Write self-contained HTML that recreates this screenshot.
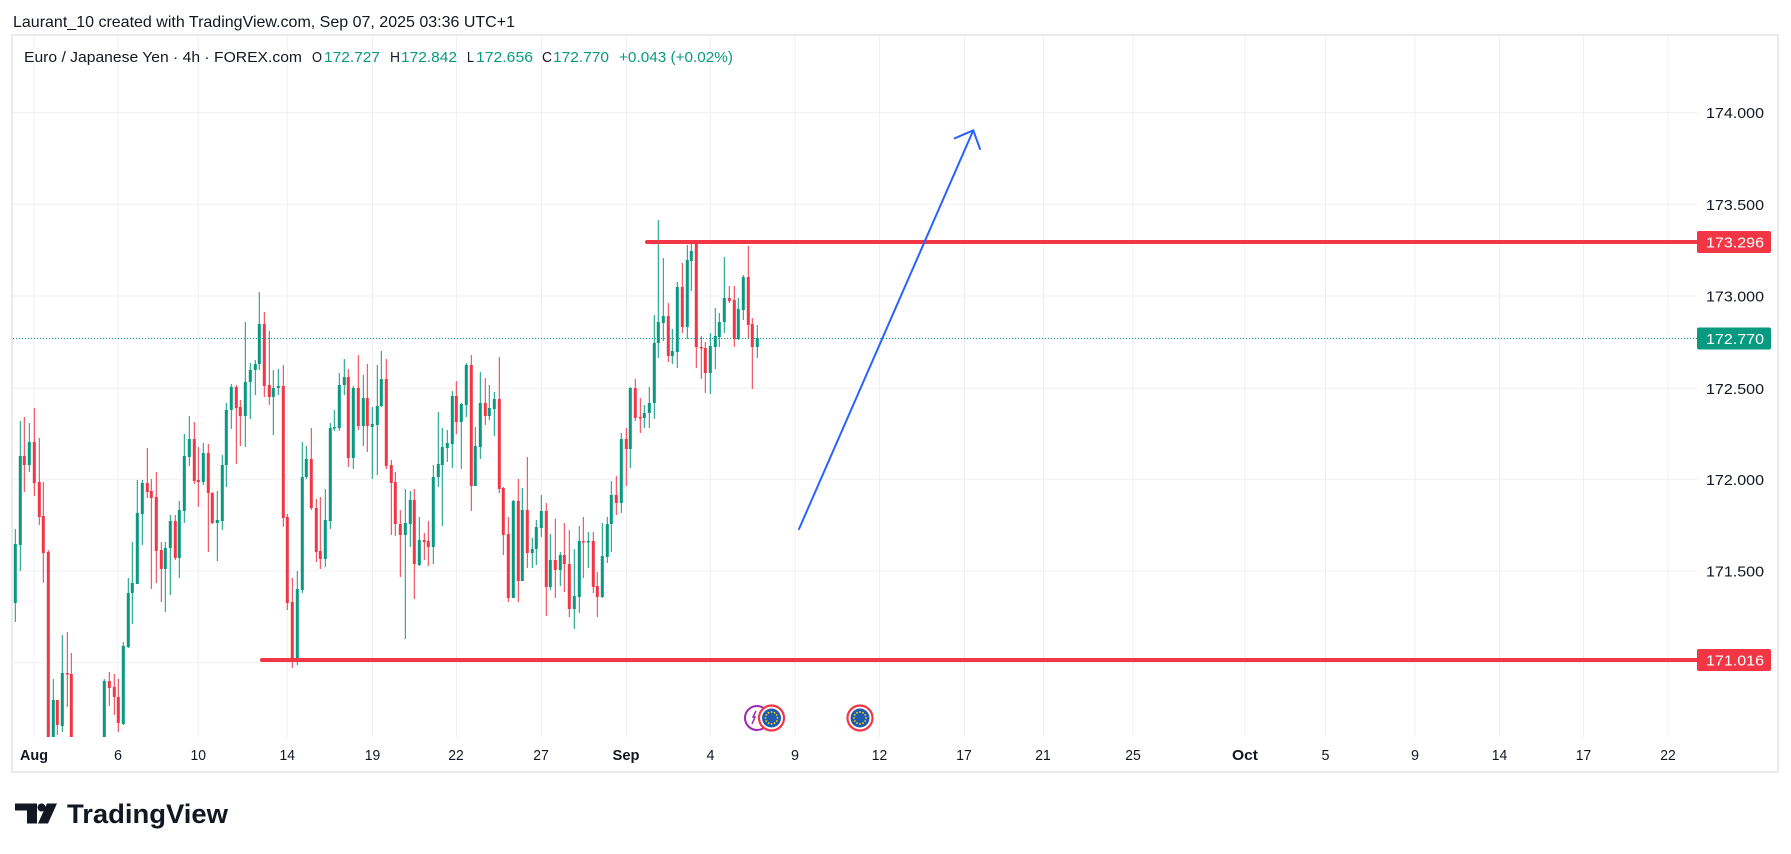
<!DOCTYPE html>
<html><head><meta charset="utf-8"><style>
html,body{margin:0;padding:0;background:#fff;width:1791px;height:854px;overflow:hidden}
svg{display:block}
text{font-family:"Liberation Sans",sans-serif}
</style></head><body>
<svg width="1791" height="854" viewBox="0 0 1791 854" xmlns="http://www.w3.org/2000/svg">
<defs><clipPath id="pane"><rect x="12" y="35" width="1685" height="702"/></clipPath></defs>
<rect width="1791" height="854" fill="#fff"/>
<text x="13" y="27" font-size="16" fill="#131722" textLength="502" lengthAdjust="spacingAndGlyphs">Laurant_10 created with TradingView.com, Sep 07, 2025 03:36 UTC+1</text>
<!-- grid -->
<g stroke="#F0F0F0" stroke-width="1">
<path d="M34 36V737M118 36V737M198.3 36V737M287.3 36V737M372.5 36V737M456.5 36V737M541.5 36V737M626.5 36V737M710.5 36V737M795 36V737M879.5 36V737M964.5 36V737M1043.5 36V737M1133 36V737M1245 36V737M1325.5 36V737M1415 36V737M1499.5 36V737M1583.5 36V737M1668 36V737"/>
<path d="M13 112.6H1697M13 204.3H1697M13 296H1697M13 388.3H1697M13 479.3H1697M13 571H1697M13 662.7H1697"/>
</g>
<rect x="12" y="35" width="1766" height="737" fill="none" stroke="#EBEBEB" stroke-width="2"/>
<!-- legend -->
<g font-size="15">
<text x="24" y="62" fill="#131722" textLength="278" lengthAdjust="spacingAndGlyphs">Euro / Japanese Yen · 4h · FOREX.com</text>
<text x="312" y="62" fill="#131722" textLength="10" lengthAdjust="spacingAndGlyphs">O</text>
<text x="324" y="62" fill="#089981" textLength="56" lengthAdjust="spacingAndGlyphs">172.727</text>
<text x="390" y="62" fill="#131722" textLength="10" lengthAdjust="spacingAndGlyphs">H</text>
<text x="401" y="62" fill="#089981" textLength="56" lengthAdjust="spacingAndGlyphs">172.842</text>
<text x="467" y="62" fill="#131722" textLength="7" lengthAdjust="spacingAndGlyphs">L</text>
<text x="476" y="62" fill="#089981" textLength="57" lengthAdjust="spacingAndGlyphs">172.656</text>
<text x="542" y="62" fill="#131722" textLength="10" lengthAdjust="spacingAndGlyphs">C</text>
<text x="553" y="62" fill="#089981" textLength="56" lengthAdjust="spacingAndGlyphs">172.770</text>
<text x="619" y="62" fill="#089981" textLength="114" lengthAdjust="spacingAndGlyphs">+0.043 (+0.02%)</text>
</g>
<g clip-path="url(#pane)">
<path stroke="#089981" stroke-width="1" fill="none" d="M15.3 529V622 M20.3 421V571 M29.3 423V472 M53.3 679V780 M62.3 635V732 M104.3 679V780 M123.3 642V725 M128.3 578V648 M132.3 542V624 M137.3 480V584 M142.3 480V545 M165.3 542V612 M170.3 515V595 M179.3 501V578 M184.3 434V523 M189.3 416V466 M203.3 443V485 M217.3 491V561 M222.3 455V530 M226.3 403V487 M231.3 384V429 M245.3 322V447 M250.3 363V419 M255.3 360V395 M259.3 292V370 M273.3 370V435 M278.3 369V395 M297.3 571V665 M302.3 442V593 M306.3 446V479 M325.3 489V567 M330.3 423V529 M334.3 410V431 M339.3 373V431 M344.3 359V395 M353.3 386V469 M363.3 375V446 M372.3 407V479 M377.3 365V475 M381.3 351V407 M405.3 489V639 M410.3 491V547 M419.3 517V566 M433.3 465V564 M438.3 412V487 M442.3 428V526 M447.3 430V462 M452.3 391V468 M461.3 403V469 M466.3 363V417 M475.3 427V486 M480.3 372V459 M489.3 385V420 M494.3 392V436 M513.3 500V598 M522.3 488V581 M532.3 538V568 M536.3 520V565 M541.3 495V537 M550.3 534V590 M560.3 552V586 M574.3 549V629 M579.3 526V613 M588.3 532V568 M602.3 523V598 M607.3 517V563 M611.3 481V552 M621.3 433V513 M630.3 387V468 M644.3 405V428 M649.3 387V428 M654.3 315V419 M658.3 220V358 M663.3 258V341 M672.3 329V364 M677.3 282V368 M687.3 245V339 M691.3 241V291 M710.3 333V394 M715.3 308V369 M719.3 313V347 M724.3 257V333 M738.3 298V340 M743.3 275V320 M757.3 325V358"/>
<path fill="#089981" d="M13.8 544h3v59h-3zM18.8 456h3v89h-3zM27.8 442h3v23h-3zM51.8 700h3v60h-3zM60.8 673h3v53h-3zM102.8 681h3v79h-3zM121.8 646h3v78h-3zM126.8 593h3v54h-3zM130.8 583h3v10h-3zM135.8 513h3v71h-3zM140.8 483h3v31h-3zM163.8 548h3v21h-3zM168.8 521h3v27h-3zM177.8 510h3v48h-3zM182.8 456h3v55h-3zM187.8 439h3v18h-3zM201.8 453h3v29h-3zM215.8 520h3v3h-3zM220.8 465h3v56h-3zM224.8 410h3v55h-3zM229.8 387h3v23h-3zM243.8 382h3v34h-3zM248.8 370h3v12h-3zM253.8 364h3v6h-3zM257.8 324h3v40h-3zM271.8 388h3v9h-3zM276.8 386h3v2h-3zM295.8 589h3v71h-3zM300.8 477h3v113h-3zM304.8 459h3v18h-3zM323.8 520h3v39h-3zM328.8 428h3v93h-3zM332.8 427h3v1.5h-3zM337.8 385h3v43h-3zM342.8 377h3v8h-3zM351.8 388h3v70h-3zM361.8 398h3v28h-3zM370.8 424h3v3h-3zM375.8 406h3v19h-3zM379.8 379h3v27h-3zM403.8 523h3v12h-3zM408.8 500h3v24h-3zM417.8 540h3v25h-3zM431.8 477h3v70h-3zM436.8 464h3v13h-3zM440.8 447h3v18h-3zM445.8 443h3v5h-3zM450.8 396h3v48h-3zM459.8 404h3v18h-3zM464.8 365h3v40h-3zM473.8 446h3v40h-3zM478.8 403h3v44h-3zM487.8 408h3v8h-3zM492.8 399h3v10h-3zM511.8 501h3v97h-3zM520.8 510h3v71h-3zM530.8 549h3v4h-3zM534.8 527h3v22h-3zM539.8 511h3v17h-3zM548.8 560h3v27h-3zM558.8 555h3v15h-3zM572.8 596h3v13h-3zM577.8 541h3v56h-3zM586.8 541h3v1.5h-3zM600.8 556h3v41h-3zM605.8 524h3v33h-3zM609.8 495h3v29h-3zM619.8 439h3v64h-3zM628.8 388h3v61h-3zM642.8 413h3v5h-3zM647.8 403h3v10h-3zM652.8 343h3v60h-3zM656.8 322h3v21h-3zM661.8 316h3v7h-3zM670.8 351h3v5h-3zM675.8 287h3v65h-3zM685.8 260h3v67h-3zM689.8 251h3v10h-3zM708.8 346h3v27h-3zM713.8 336h3v11h-3zM717.8 322h3v15h-3zM722.8 298h3v24h-3zM736.8 309h3v30h-3zM741.8 277h3v33h-3zM755.8 338h3v9h-3z"/>
<path stroke="#F23645" stroke-width="1" fill="none" d="M24.3 417V492 M34.3 408V496 M39.3 438V525 M43.3 482V583 M48.3 550V780 M57.3 700V735 M67.3 632V707 M71.3 653V780 M109.3 672V706 M114.3 674V715 M118.3 679V732 M147.3 448V498 M151.3 479V589 M156.3 472V583 M161.3 542V602 M175.3 515V560 M194.3 422V484 M198.3 447V507 M208.3 444V552 M212.3 492V524 M236.3 385V464 M240.3 400V446 M264.3 312V397 M269.3 331V405 M283.3 365V527 M287.3 514V610 M292.3 578V668 M311.3 428V510 M316.3 499V562 M320.3 497V569 M348.3 369V467 M358.3 355V430 M367.3 364V452 M386.3 359V469 M391.3 460V535 M395.3 472V536 M400.3 510V577 M414.3 489V599 M424.3 533V560 M428.3 521V566 M456.3 381V434 M471.3 355V511 M485.3 378V425 M499.3 357V493 M503.3 487V555 M508.3 517V602 M518.3 479V602 M527.3 457V568 M546.3 503V616 M555.3 519V598 M564.3 523V592 M569.3 530V617 M583.3 517V578 M593.3 532V593 M597.3 572V617 M616.3 476V515 M626.3 428V486 M635.3 379V421 M640.3 398V433 M668.3 303V362 M682.3 263V333 M696.3 242V368 M701.3 336V379 M705.3 342V393 M729.3 286V303 M734.3 286V347 M748.3 246V338 M752.3 318V389"/>
<path fill="#F23645" d="M22.8 456h3v9h-3zM32.8 442h3v41h-3zM37.8 482h3v35h-3zM41.8 516h3v37h-3zM46.8 552h3v208h-3zM55.8 700h3v25h-3zM65.8 673h3v1.5h-3zM69.8 674h3v86h-3zM107.8 681h3v7h-3zM112.8 687h3v10h-3zM116.8 697h3v26h-3zM145.8 483h3v9h-3zM149.8 491h3v7h-3zM154.8 497h3v54h-3zM159.8 550h3v19h-3zM173.8 521h3v37h-3zM192.8 439h3v42h-3zM196.8 480h3v2h-3zM206.8 453h3v40h-3zM210.8 493h3v30h-3zM234.8 387h3v21h-3zM238.8 407h3v9h-3zM262.8 324h3v62h-3zM267.8 385h3v12h-3zM281.8 386h3v132h-3zM285.8 517h3v86h-3zM290.8 602h3v58h-3zM309.8 459h3v49h-3zM314.8 508h3v44h-3zM318.8 551h3v8h-3zM346.8 377h3v81h-3zM356.8 388h3v38h-3zM365.8 398h3v28h-3zM384.8 379h3v87h-3zM389.8 465h3v18h-3zM393.8 482h3v42h-3zM398.8 524h3v11h-3zM412.8 500h3v64h-3zM422.8 540h3v2h-3zM426.8 541h3v6h-3zM454.8 396h3v26h-3zM469.8 365h3v121h-3zM483.8 403h3v13h-3zM497.8 399h3v90h-3zM501.8 488h3v47h-3zM506.8 534h3v64h-3zM516.8 501h3v80h-3zM525.8 510h3v43h-3zM544.8 511h3v76h-3zM553.8 560h3v10h-3zM562.8 555h3v9h-3zM567.8 564h3v45h-3zM581.8 541h3v1.5h-3zM591.8 541h3v46h-3zM595.8 586h3v11h-3zM614.8 495h3v8h-3zM624.8 439h3v10h-3zM633.8 388h3v30h-3zM638.8 417h3v1.5h-3zM666.8 316h3v40h-3zM680.8 287h3v40h-3zM694.8 242h3v105h-3zM699.8 347h3v1.5h-3zM703.8 348h3v25h-3zM727.8 298h3v3h-3zM732.8 300h3v39h-3zM746.8 277h3v48h-3zM750.8 324h3v23h-3z"/>
</g>
<!-- last price dotted line -->
<path d="M13 338.5H1697" stroke="#089981" stroke-width="1" stroke-dasharray="1 2"/>
<!-- horizontal levels -->
<path d="M647 242H1697M262 660H1697" stroke="#F23645" stroke-width="4" stroke-linecap="round"/>
<!-- arrow -->
<g stroke="#2962FF" stroke-width="2" stroke-linecap="round" stroke-linejoin="round" fill="none">
<path d="M799 529L973.3 130.3"/>
<path d="M954.7 138.3L973.3 130.3L980 149"/>
</g>
<!-- event icons -->
<g>
<circle cx="757" cy="718" r="12" fill="#fff" stroke="#9C27B0" stroke-width="2"/>
<path d="M752 724l3-7h-2l3-6" stroke="#9C27B0" stroke-width="1.5" fill="none"/>
<circle cx="771.5" cy="718" r="12.5" fill="#fff" stroke="#F23645" stroke-width="2.2"/>
<circle cx="771.5" cy="718" r="9.5" fill="#1E5BB0"/>
<g fill="#FFD600">
<circle cx="771.5" cy="712" r="0.9"/><circle cx="774.5" cy="712.8" r="0.9"/><circle cx="776.7" cy="715" r="0.9"/><circle cx="777.5" cy="718" r="0.9"/><circle cx="776.7" cy="721" r="0.9"/><circle cx="774.5" cy="723.2" r="0.9"/><circle cx="771.5" cy="724" r="0.9"/><circle cx="768.5" cy="723.2" r="0.9"/><circle cx="766.3" cy="721" r="0.9"/><circle cx="765.5" cy="718" r="0.9"/><circle cx="766.3" cy="715" r="0.9"/><circle cx="768.5" cy="712.8" r="0.9"/>
</g>
<circle cx="860" cy="718" r="12.5" fill="#fff" stroke="#F23645" stroke-width="2.2"/>
<circle cx="860" cy="718" r="9.5" fill="#1E5BB0"/>
<g fill="#FFD600">
<circle cx="860" cy="712" r="0.9"/><circle cx="863" cy="712.8" r="0.9"/><circle cx="865.2" cy="715" r="0.9"/><circle cx="866" cy="718" r="0.9"/><circle cx="865.2" cy="721" r="0.9"/><circle cx="863" cy="723.2" r="0.9"/><circle cx="860" cy="724" r="0.9"/><circle cx="857" cy="723.2" r="0.9"/><circle cx="854.8" cy="721" r="0.9"/><circle cx="854" cy="718" r="0.9"/><circle cx="854.8" cy="715" r="0.9"/><circle cx="857" cy="712.8" r="0.9"/>
</g>
</g>
<!-- price axis -->
<g font-size="15" fill="#131722">
<text x="1706" y="118" textLength="58" lengthAdjust="spacingAndGlyphs">174.000</text>
<text x="1706" y="209.8" textLength="58" lengthAdjust="spacingAndGlyphs">173.500</text>
<text x="1706" y="301.5" textLength="58" lengthAdjust="spacingAndGlyphs">173.000</text>
<text x="1706" y="393.8" textLength="58" lengthAdjust="spacingAndGlyphs">172.500</text>
<text x="1706" y="484.8" textLength="58" lengthAdjust="spacingAndGlyphs">172.000</text>
<text x="1706" y="576.5" textLength="58" lengthAdjust="spacingAndGlyphs">171.500</text>
</g>
<rect x="1697" y="231" width="74" height="22" rx="2" fill="#F23645"/>
<rect x="1697" y="327.5" width="74" height="22" rx="2" fill="#089981"/>
<rect x="1697" y="649" width="74" height="22" rx="2" fill="#F23645"/>
<g font-size="15" fill="#fff">
<text x="1706" y="247.5" textLength="58" lengthAdjust="spacingAndGlyphs">173.296</text>
<text x="1706" y="344" textLength="58" lengthAdjust="spacingAndGlyphs">172.770</text>
<text x="1706" y="665.5" textLength="58" lengthAdjust="spacingAndGlyphs">171.016</text>
</g>
<!-- time axis -->
<g font-size="15" fill="#131722" text-anchor="middle">
<text x="34" y="760" font-weight="bold" textLength="28" lengthAdjust="spacingAndGlyphs">Aug</text>
<text x="118" y="760" textLength="8" lengthAdjust="spacingAndGlyphs">6</text>
<text x="198.3" y="760" textLength="15.5" lengthAdjust="spacingAndGlyphs">10</text>
<text x="287.3" y="760" textLength="15.5" lengthAdjust="spacingAndGlyphs">14</text>
<text x="372.5" y="760" textLength="15.5" lengthAdjust="spacingAndGlyphs">19</text>
<text x="456" y="760" textLength="15.5" lengthAdjust="spacingAndGlyphs">22</text>
<text x="541" y="760" textLength="15.5" lengthAdjust="spacingAndGlyphs">27</text>
<text x="626" y="760" font-weight="bold" textLength="27" lengthAdjust="spacingAndGlyphs">Sep</text>
<text x="710.5" y="760" textLength="8" lengthAdjust="spacingAndGlyphs">4</text>
<text x="795" y="760" textLength="8" lengthAdjust="spacingAndGlyphs">9</text>
<text x="879.5" y="760" textLength="15.5" lengthAdjust="spacingAndGlyphs">12</text>
<text x="964" y="760" textLength="15.5" lengthAdjust="spacingAndGlyphs">17</text>
<text x="1043" y="760" textLength="15.5" lengthAdjust="spacingAndGlyphs">21</text>
<text x="1133" y="760" textLength="15.5" lengthAdjust="spacingAndGlyphs">25</text>
<text x="1245" y="760" font-weight="bold" textLength="26" lengthAdjust="spacingAndGlyphs">Oct</text>
<text x="1325.5" y="760" textLength="8" lengthAdjust="spacingAndGlyphs">5</text>
<text x="1415" y="760" textLength="8" lengthAdjust="spacingAndGlyphs">9</text>
<text x="1499.5" y="760" textLength="15.5" lengthAdjust="spacingAndGlyphs">14</text>
<text x="1583.5" y="760" textLength="15.5" lengthAdjust="spacingAndGlyphs">17</text>
<text x="1668" y="760" textLength="15.5" lengthAdjust="spacingAndGlyphs">22</text>
</g>
<!-- TradingView logo -->
<g fill="#131722">
<path d="M15 803.5h22v20h-10v-13h-12z"/>
<circle cx="41.5" cy="807.5" r="4"/>
<path d="M47 803.5h10l-9 20h-10z"/>
<text x="67" y="823" font-size="27" font-weight="bold" textLength="161" lengthAdjust="spacingAndGlyphs">TradingView</text>
</g>
</svg>
</body></html>
